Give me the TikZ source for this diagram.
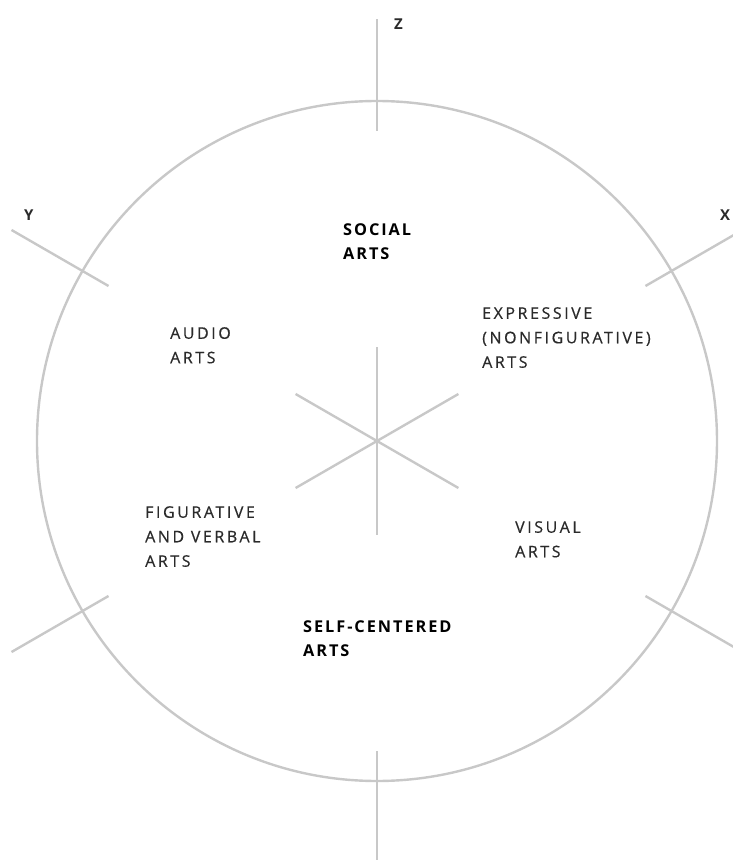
\documentclass[tikz,border=0pt]{standalone}
\usepackage{fontspec}
\setmainfont{Open Sans}
\newfontfamily\artfont{Open Sans}[LetterSpace=16, FakeBold=0.5]
\newfontfamily\headfont{Open Sans}[LetterSpace=12]

\definecolor{axisgray}{HTML}{C8C8C8}
\definecolor{inkgray}{HTML}{2A2A2A}

\begin{document}
\begin{tikzpicture}[x=1pt, y=1pt,
	axis/.style={draw=axisgray, line width=2.4pt},
	art/.style={anchor=north west, inner sep=0pt, align=left, text=inkgray,
		font=\artfont\fontsize{16}{24.5}\selectfont},
	head/.style={anchor=north west, inner sep=0pt, align=left, text=black,
		font=\headfont\bfseries\fontsize{16.3}{24}\selectfont},
	dir/.style={anchor=north west, inner sep=0pt, text=inkgray,
		font=\headfont\bfseries\fontsize{15}{15}\selectfont}]

	\useasboundingbox (-377,441) rectangle (355,-419);

	\coordinate (c) at (0,0);
	\draw[axis] (c) circle [radius=340];

	% spokes of the hub and ticks crossing the rim
	\foreach \a [count=\i] in {90,30,330,270,210,150}
	{
		\coordinate (hub\i) at (\a:94);
		\coordinate (in\i) at (\a:310);
		\coordinate (out\i) at (\a:422);
	};

	\foreach \i in {1,...,6}
	{
		\path[axis] (c) edge (hub\i);
		\path[axis] (in\i) edge (out\i);
	};

	% axis letters
	\node[dir] (z) at (17,422) {Z};
	\node[dir] (y) at (-353,231) {Y};
	\node[dir] (x) at (343,231) {X};

	% the six kinds of art
	\node[head] (social) at (-34,218) {SOCIAL\\ARTS};
	\node[art] (audio) at (-207,114) {AUDIO\\ARTS};
	\node[art] (expressive) at (105,134) {EXPRESSIVE\\(NONFIGURATIVE)\\ARTS};
	\node[art] (figurative) at (-232,-65) {FIGURATIVE\\AND VERBAL\\ARTS};
	\node[art] (visual) at (138,-80) {VISUAL\\ARTS};
	\node[head] (self) at (-74,-179) {SELF-CENTERED\\ARTS};

\end{tikzpicture}
\end{document}
